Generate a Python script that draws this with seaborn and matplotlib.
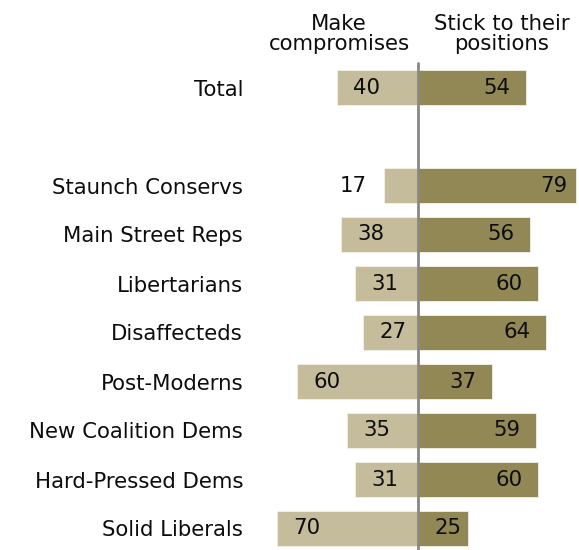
import matplotlib
matplotlib.use('Agg')

import pandas as pd
import matplotlib.pyplot as plt
import seaborn as sns

# dados
groups = ["Total", "Staunch Conservs", "Main Street Reps", "Libertarians",
          "Disaffecteds", "Post-Moderns", "New Coalition Dems",
          "Hard-Pressed Dems", "Solid Liberals"]
compromise = [40, 17, 38, 31, 27, 60, 35, 31, 70]
stick = [54, 79, 56, 60, 64, 37, 59, 60, 25]
side_labels = ["Make\ncompromises", "Stick to their\npositions"]

# linha vazia entre Total e os grupos
order = [groups[0], " "] + groups[1:]

df = pd.concat([
    pd.DataFrame({"group": groups, "side": side_labels[0], "value": compromise,
                  "signed": [-v for v in compromise]}),
    pd.DataFrame({"group": groups, "side": side_labels[1], "value": stick,
                  "signed": stick}),
], ignore_index=True)

sns.set_style("white")
plt.rcParams['font.family'] = ['DejaVu Sans']

fig = plt.figure(figsize=(5.79, 5.50), dpi=100)
ax = fig.add_axes([250 / 579, 0, 1 - 250 / 579, 1])

sns.barplot(data=df, y="group", x="signed", hue="side", order=order,
            hue_order=side_labels, palette=["#c5bc9b", "#928856"],
            saturation=1, dodge=False, width=0.714, orient="h", legend=False,
            edgecolor="#f4f1e8", linewidth=0.6, ax=ax)

px = 2.01  # pixels por ponto percentual
ax.set_xlim((250 - 417.7) / px, (579 - 417.7) / px)
ax.set_ylim((550 - 87.5) / 49, -87.5 / 49)

ax.axvline(0, ymin=0, ymax=1 - 63 / 550, color="#878787", lw=2, zorder=5)

fs = 15.3
txt = "#0d0d0d"
for i, g in enumerate(groups):
    y = order.index(g)
    c, s = compromise[i], stick[i]
    xc = -(c - 14.75) if c >= 20 else -(c + 15)
    ax.text(xc, y, str(c), ha="center", va="center", fontsize=fs, color=txt, zorder=6)
    xs = max(s - 14.5, 15)
    if s > 75:
        xs = s - 11.5
    ax.text(xs, y, str(s), ha="center", va="center", fontsize=fs, color=txt, zorder=6)

ax.text((339 - 417.7) / px, -1.1, side_labels[0], ha="center", va="center",
        fontsize=fs, linespacing=1.0, color=txt)
ax.text((502 - 417.7) / px, -1.1, side_labels[1], ha="center", va="center",
        fontsize=fs, linespacing=1.0, color=txt)

ax.set_xlabel("")
ax.set_ylabel("")
ax.set_xticks([])
ax.tick_params(axis="y", length=0, pad=5, labelsize=fs, labelcolor=txt)
sns.despine(ax=ax, left=True, bottom=True)

fig.savefig("out.png", dpi=100)
